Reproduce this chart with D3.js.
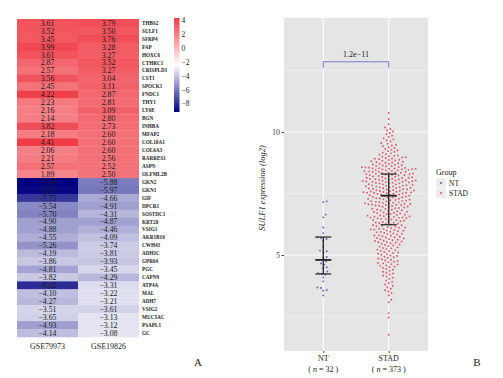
<!DOCTYPE html>
<html><head><meta charset="utf-8">
<script src="https://cdn.jsdelivr.net/npm/d3@7"></script>
<style>body{margin:0;background:#fff}svg{display:block;font-family:"Liberation Serif","Times New Roman",serif}</style>
</head><body><svg id="c" width="503" height="378"></svg>
<script>
// ---------- Panel A data ----------
const genes = ["THBS2","SULF1","SFRP4","FAP","HOXC6","CTHRC1","CRISPLD1","CST1","SPOCK1","FNDC1","THY1","LY6E","BGN","INHBA","MFAP2","COL10A1","COL6A3","RARRES1","ASPN","OLFML2B",
  "GKN2","GKN1","GIF","DPCR1","SOSTDC1","KRT20","VSIG1","AKR1B10","CWH43","ADH1C","GPR64","PGC","CAPN9","ATP4A","MAL","ADH7","VSIG2","MUC5AC","PSAPL1","GC"];
const gse79973 = [3.61,3.52,3.45,3.99,3.61,2.87,2.57,3.56,2.45,4.22,2.23,2.16,2.14,3.82,2.18,4.41,2.06,2.21,2.57,1.89,
  -9.18,-8.99,-7.75,-5.54,-5.70,-4.90,-4.88,-4.55,-5.26,-4.19,-3.86,-4.81,-3.82,-8.02,-4.10,-4.27,-3.51,-3.65,-4.93,-4.14];
const gse19826 = [3.79,3.50,3.76,3.28,3.27,3.52,3.27,3.04,3.11,2.87,2.81,3.09,2.80,2.73,2.60,2.60,2.60,2.56,2.52,2.50,
  -5.88,-5.97,-4.66,-4.91,-4.31,-4.87,-4.46,-4.09,-3.74,-3.81,-3.93,-3.45,-4.29,-3.31,-3.22,-3.21,-3.61,-3.13,-3.12,-3.08];
const datasets = ["GSE79973","GSE19826"];
const colorTicks = [4,2,0,-2,-4,-6,-8];

// ---------- Panel B data ----------
const groups = ["NT","STAD"];
const groupN = [32,373];
const ntValues = [7.18,7.15,6.64,6.53,6.12,5.89,5.72,5.69,5.65,5.58,5.35,5.18,5.15,5.12,4.92,4.88,4.74,4.66,4.61,4.50,4.47,4.33,4.26,4.23,4.21,4.09,3.93,3.68,3.66,3.58,3.55,3.36];
const stadValues = [10.77,10.52,
  10.31,10.18,10.12,10.06,10.02,
  9.96,9.91,9.85,9.80,9.74,9.70,9.66,9.61,9.55,9.52,
  9.48,9.45,9.42,9.38,9.35,9.31,9.28,9.25,9.22,9.19,9.16,9.13,9.10,9.08,9.05,9.03,9.01,
  8.99,8.97,8.96,8.94,8.92,8.91,8.89,8.87,8.86,8.84,8.83,8.81,8.79,8.78,8.76,8.75,8.73,8.71,8.70,8.68,8.67,8.65,8.64,8.62,8.61,8.60,8.58,8.57,8.56,8.55,8.54,8.53,8.52,8.52,8.51,8.50,
  8.49,8.48,8.48,8.46,8.45,8.44,8.44,8.42,8.41,8.40,8.38,8.38,8.37,8.35,8.34,8.34,8.32,8.31,8.30,8.29,8.28,8.27,8.26,8.24,8.24,8.23,8.21,8.20,8.19,8.18,8.17,8.16,8.14,8.14,8.13,8.11,8.10,8.09,8.08,8.07,8.06,8.05,8.04,8.03,8.03,8.02,8.01,8.00,
  7.99,7.98,7.98,7.96,7.95,7.94,7.93,7.91,7.91,7.90,7.88,7.87,7.87,7.85,7.84,7.83,7.82,7.81,7.79,7.79,7.78,7.76,7.75,7.75,7.73,7.72,7.71,7.70,7.69,7.67,7.67,7.66,7.64,7.63,7.62,7.61,7.60,7.59,7.58,7.57,7.56,7.55,7.54,7.53,7.53,7.52,7.51,7.50,
  7.49,7.48,7.46,7.45,7.44,7.43,7.41,7.40,7.39,7.38,7.36,7.35,7.34,7.33,7.31,7.30,7.29,7.28,7.26,7.25,7.24,7.23,7.21,7.20,7.19,7.18,7.16,7.15,7.14,7.13,7.11,7.10,7.09,7.08,7.07,7.06,7.05,7.04,7.03,7.02,7.01,7.00,
  6.99,6.97,6.96,6.94,6.93,6.91,6.90,6.88,6.87,6.85,6.84,6.82,6.81,6.79,6.78,6.76,6.75,6.73,6.72,6.70,6.69,6.67,6.66,6.64,6.63,6.61,6.60,6.58,6.57,6.56,6.55,6.54,6.53,6.52,6.51,6.50,
  6.49,6.47,6.46,6.44,6.42,6.41,6.39,6.37,6.36,6.34,6.32,6.31,6.29,6.27,6.26,6.24,6.22,6.21,6.19,6.17,6.16,6.14,6.12,6.11,6.09,6.07,6.06,6.04,6.03,6.02,6.00,
  5.99,5.97,5.95,5.94,5.92,5.90,5.88,5.86,5.85,5.83,5.81,5.79,5.78,5.76,5.74,5.72,5.71,5.69,5.67,5.65,5.64,5.62,5.60,5.58,5.57,5.55,5.53,5.52,5.50,
  5.48,5.46,5.43,5.41,5.39,5.36,5.34,5.31,5.29,5.27,5.24,5.22,5.20,5.17,5.15,5.12,5.10,5.08,5.05,5.03,5.01,
  4.98,4.96,4.93,4.91,4.88,4.86,4.83,4.81,4.78,4.76,4.73,4.71,4.68,4.66,4.63,4.61,4.58,4.56,4.53,4.51,
  4.47,4.43,4.40,4.36,4.32,4.28,4.25,4.21,4.17,4.13,4.08,4.03,
  3.96,3.91,3.86,3.80,3.75,3.69,3.63,3.57,3.52,
  3.45,3.36,3.18,3.08,2.64,2.46,1.76];
const summaryMid = [4.80,7.41];
const summaryHi = [5.73,8.29];
const summaryLo = [4.23,6.23];
const yTicks = [5,10];
const yMinor = [2.5,7.5,12.5];
const pLabel = "1.2e\u221211";
const groupColors = ["#6464c8","#e0566a"];

const svg = d3.select("#c");
const fmt = v => (v < 0 ? "\u2212" + d3.format(".2f")(-v) : d3.format(".2f")(v));

// ================= Panel A: heatmap =================
const hx = d3.scaleBand().domain(datasets).range([17,139]);
const hy = d3.scaleBand().domain(genes).range([19,337]);
const allVals = gse79973.concat(gse19826);
const [vmin, vmax] = d3.extent(allVals);
const color = d3.scaleLinear().domain([vmin,(vmin+vmax)/2,vmax]).range(["#000080","#ffffff","#f03c46"]);
const cells = [];
genes.forEach((g,i)=>{ cells.push({g, d:datasets[0], v:gse79973[i]}); cells.push({g, d:datasets[1], v:gse19826[i]}); });
const hm = svg.append("g");
hm.selectAll("rect").data(cells).join("rect")
  .attr("x", d=>hx(d.d)).attr("y", d=>hy(d.g))
  .attr("width", hx.bandwidth()).attr("height", hy.bandwidth()+0.3)
  .attr("fill", d=>color(d.v));
hm.selectAll("text.val").data(cells).join("text").attr("class","val")
  .attr("x", d=>hx(d.d)+hx.bandwidth()/2).attr("y", d=>hy(d.g)+hy.bandwidth()/2)
  .attr("dy","0.35em").attr("text-anchor","middle")
  .attr("font-size",7.8).attr("fill","#1a1a1a").text(d=>fmt(d.v));
hm.selectAll("text.gene").data(genes).join("text").attr("class","gene")
  .attr("x", 142).attr("y", d=>hy(d)+hy.bandwidth()/2).attr("dy","0.35em")
  .attr("font-size",5.2).attr("font-weight","bold").attr("fill","#222").text(d=>d);
hm.selectAll("text.ds").data(datasets).join("text").attr("class","ds")
  .attr("x", d=>hx(d)+hx.bandwidth()/2).attr("y",349).attr("text-anchor","middle")
  .attr("font-size",8).attr("fill","#222").text(d=>d);

// colour bar
const cy = d3.scaleLinear().domain([vmin,vmax]).range([112,18]);
const defs = svg.append("defs");
const grad = defs.append("linearGradient").attr("id","cb").attr("x1",0).attr("y1",1).attr("x2",0).attr("y2",0);
d3.range(0,1.0001,0.05).forEach(t=>{
  grad.append("stop").attr("offset",t).attr("stop-color", color(vmin + t*(vmax-vmin)));
});
svg.append("rect").attr("x",174).attr("y",cy(vmax)).attr("width",5.5).attr("height",cy(vmin)-cy(vmax)).attr("fill","url(#cb)");
svg.selectAll("text.cbt").data(colorTicks).join("text").attr("class","cbt")
  .attr("x",181.5).attr("y",d=>cy(d)).attr("dy","0.35em")
  .attr("font-size",7.5).attr("fill","#222").text(d=> d<0 ? "\u2212"+(-d) : d);

svg.append("text").attr("x",198).attr("y",366).attr("text-anchor","middle").attr("font-size",11).attr("fill","#222").text("A");

// ================= Panel B: beeswarm =================
const x = d3.scalePoint().domain(groups).range([284,428]).padding(0.6);
const y = d3.scaleLinear().domain([1.1,14.63]).range([351,18]);
const pb = svg.append("g");
pb.append("rect").attr("x",284).attr("y",18).attr("width",144).attr("height",333).attr("fill","#e5e5e5");
pb.selectAll("line.ymin").data(yMinor).join("line").attr("x1",284).attr("x2",428)
  .attr("y1",d=>y(d)).attr("y2",d=>y(d)).attr("stroke","#f4f4f4").attr("stroke-width",0.6);
pb.selectAll("line.ymaj").data(yTicks).join("line").attr("x1",284).attr("x2",428)
  .attr("y1",d=>y(d)).attr("y2",d=>y(d)).attr("stroke","#fff").attr("stroke-width",1);
pb.selectAll("line.xmaj").data(groups).join("line").attr("y1",18).attr("y2",351)
  .attr("x1",d=>x(d)).attr("x2",d=>x(d)).attr("stroke","#fff").attr("stroke-width",1);

// y axis
const ya = svg.append("g").attr("transform","translate(284,0)").call(d3.axisLeft(y).tickValues(yTicks).tickSize(2.5).tickPadding(1.5));
ya.select(".domain").remove();
ya.selectAll(".tick line").attr("stroke","#444");
ya.selectAll(".tick text").attr("font-family","Liberation Serif").attr("font-size",8).attr("fill","#444");
// x axis
const xa = svg.append("g").attr("transform","translate(0,351)").call(d3.axisBottom(x).tickSize(2).tickFormat(""));
xa.select(".domain").remove();
xa.selectAll(".tick line").attr("stroke","#444");
groups.forEach((g,i)=>{
  svg.append("text").attr("x",x(g)).attr("y",361).attr("text-anchor","middle").attr("font-size",8).attr("fill","#222").text(g);
  const t = svg.append("text").attr("x",x(g)).attr("y",371.5).attr("text-anchor","middle").attr("font-size",8).attr("fill","#222");
  t.append("tspan").text("( ");
  t.append("tspan").attr("font-style","italic").text("n");
  t.append("tspan").text(" = " + groupN[i] + " )");
});
svg.append("text").attr("transform","translate(265,188) rotate(-90)").attr("text-anchor","middle")
  .attr("font-size",8.5).attr("font-style","italic").attr("fill","#222").text("SULF1 expression (log2)");

// swarm layout
function swarm(values, cx, dd){
  const pts = values.map(v=>({v, py:y(v)})).sort((a,b)=>a.v-b.v);
  const placed=[];
  for(const p of pts){
    const near = placed.filter(q=>Math.abs(q.py-p.py)<dd);
    const cands=[0];
    for(const q of near){ const dy=p.py-q.py; const dx=Math.sqrt(dd*dd-dy*dy); cands.push(q.dx+dx,q.dx-dx); }
    cands.sort((a,b)=>Math.abs(a)-Math.abs(b));
    let chosen=0;
    for(const c of cands){
      let ok=true;
      for(const q of near){ const ddx=c-q.dx, dy=p.py-q.py; if(ddx*ddx+dy*dy < dd*dd-1e-6){ok=false;break;} }
      if(ok){chosen=c;break;}
    }
    p.dx=chosen; p.px=cx+chosen; placed.push(p);
  }
  return pts;
}
const seriesVals = [ntValues, stadValues];
groups.forEach((g,i)=>{
  const pts = swarm(seriesVals[i], x(g), 3.6);
  pb.selectAll("circle.g"+i).data(pts).join("circle").attr("class","g"+i)
    .attr("cx",d=>d.px).attr("cy",d=>d.py).attr("r",0.95).attr("fill",groupColors[i]);
});
// summary bars
groups.forEach((g,i)=>{
  const cx = x(g);
  pb.append("line").attr("x1",cx).attr("x2",cx).attr("y1",y(summaryHi[i])).attr("y2",y(summaryLo[i])).attr("stroke","#222").attr("stroke-width",1.3);
  [[summaryHi[i],1.2],[summaryLo[i],1.2],[summaryMid[i],1.8]].forEach(([v,w])=>{
    pb.append("line").attr("x1",cx-8).attr("x2",cx+8).attr("y1",y(v)).attr("y2",y(v)).attr("stroke","#222").attr("stroke-width",w);
  });
});
// significance bracket
const by = y(12.85);
svg.append("path").attr("d",`M${x("NT")},${by+6}V${by}H${x("STAD")}V${by+6}`).attr("fill","none").attr("stroke","#7b7fd0").attr("stroke-width",1.1);
svg.append("text").attr("x",(x("NT")+x("STAD"))/2).attr("y",by-5).attr("text-anchor","middle").attr("font-size",8).attr("fill","#222").text(pLabel);

// legend
const lg = svg.append("g");
lg.append("text").attr("x",436).attr("y",175).attr("font-size",8).attr("fill","#222").text("Group");
groups.forEach((g,i)=>{
  lg.append("rect").attr("x",436).attr("y",178+i*10).attr("width",10).attr("height",10).attr("fill","#ebebeb").attr("stroke","#fff").attr("stroke-width",0.5);
  lg.append("circle").attr("cx",441).attr("cy",183+i*10).attr("r",1).attr("fill",groupColors[i]);
  lg.append("text").attr("x",449).attr("y",186+i*10).attr("font-size",7.5).attr("fill","#222").text(g);
});
svg.append("text").attr("x",477).attr("y",366).attr("text-anchor","middle").attr("font-size",11).attr("fill","#222").text("B");
</script></body></html>
